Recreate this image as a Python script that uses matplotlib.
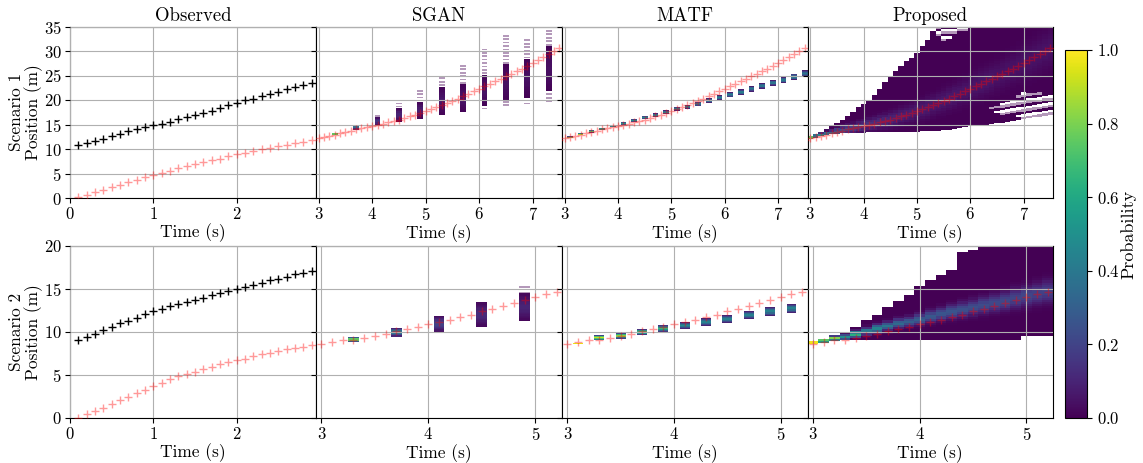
import numpy as np
import matplotlib.pyplot as plt
from matplotlib.cm import ScalarMappable
from matplotlib.colors import Normalize

plt.rcParams['font.family'] = 'cmr10'
plt.rcParams['mathtext.fontset'] = 'cm'
plt.rcParams['axes.formatter.use_mathtext'] = True
plt.rcParams['font.size'] = 13

# ---------------- data ----------------
# observed history, t = 0.1 .. 2.9
t_obs = [0.1, 0.2, 0.3, 0.4, 0.5, 0.6, 0.7, 0.8, 0.9, 1.0, 1.1, 1.2, 1.3, 1.4, 1.5,
         1.6, 1.7, 1.8, 1.9, 2.0, 2.1, 2.2, 2.3, 2.4, 2.5, 2.6, 2.7, 2.8, 2.9]
obs1_black = [10.8, 11.3, 11.7, 12.1, 12.6, 13.1, 13.6, 14.0, 14.5, 14.9, 15.2, 15.6, 16.1, 16.6, 17.0,
              17.4, 17.8, 18.3, 18.9, 19.4, 19.9, 20.3, 20.8, 21.2, 21.6, 22.2, 22.6, 23.0, 23.5]
obs1_red = [0.2, 0.7, 1.2, 1.7, 2.2, 2.7, 3.2, 3.7, 4.2, 4.6, 5.1, 5.6, 6.1, 6.5, 6.9,
            7.3, 7.7, 8.0, 8.5, 8.9, 9.2, 9.5, 9.9, 10.2, 10.6, 10.8, 11.3, 11.5, 11.8]
obs2_black = [9.1, 9.4, 9.8, 10.2, 10.6, 11.0, 11.3, 11.6, 12.1, 12.5, 12.7, 13.0, 13.3, 13.5, 13.7,
              14.0, 14.25, 14.5, 14.8, 15.0, 15.2, 15.5, 15.7, 16.0, 16.2, 16.4, 16.7, 16.9, 17.1]
obs2_red = [0.0, 0.5, 0.8, 1.2, 1.6, 2.1, 2.45, 2.9, 3.3, 3.7, 4.1, 4.5, 4.85, 5.1, 5.35,
            5.7, 5.95, 6.25, 6.5, 6.7, 6.9, 7.2, 7.4, 7.6, 7.8, 8.0, 8.15, 8.3, 8.45]

# ground truth future
t_fut1 = [3.0, 3.1, 3.2, 3.3, 3.4, 3.5, 3.6, 3.7, 3.8, 3.9, 4.0, 4.1, 4.2, 4.3, 4.4, 4.5,
          4.6, 4.7, 4.8, 4.9, 5.0, 5.1, 5.2, 5.3, 5.4, 5.5, 5.6, 5.7, 5.8, 5.9, 6.0,
          6.1, 6.2, 6.3, 6.4, 6.5, 6.6, 6.7, 6.8, 6.9, 7.0, 7.1, 7.2, 7.3, 7.4, 7.5]
fut1_red = [12.2, 12.4, 12.7, 12.9, 13.2, 13.5, 13.7, 14.0, 14.2, 14.5, 14.7, 15.0, 15.2, 15.5, 15.7, 16.0,
            16.3, 16.7, 17.0, 17.3, 17.7, 18.1, 18.5, 18.9, 19.4, 19.8, 20.3, 20.8, 21.3, 21.8, 22.3,
            22.8, 23.3, 23.8, 24.3, 24.8, 25.3, 25.9, 26.4, 27.0, 27.5, 28.1, 28.7, 29.3, 30.0, 30.6]
t_fut2 = [3.0, 3.1, 3.2, 3.3, 3.4, 3.5, 3.6, 3.7, 3.8, 3.9, 4.0, 4.1, 4.2, 4.3, 4.4, 4.5,
          4.6, 4.7, 4.8, 4.9, 5.0, 5.1, 5.2]
fut2_red = [8.65, 8.85, 9.05, 9.1, 9.3, 9.5, 9.8, 10.1, 10.4, 10.6, 10.9, 11.2, 11.45, 11.7, 12.0, 12.4,
            12.7, 13.0, 13.4, 13.7, 14.1, 14.4, 14.7]

# SGAN: sampled bars (core range, full extent, peak probability)
sgan1_t = [3.3, 3.7, 4.1, 4.5, 4.9, 5.3, 5.7, 6.1, 6.5, 6.9, 7.3]
sgan1_lo = [12.8, 13.9, 14.8, 15.5, 16.2, 16.9, 17.5, 18.8, 19.8, 20.5, 21.8]
sgan1_hi = [13.3, 15.0, 16.5, 18.4, 19.6, 22.7, 23.2, 25.2, 27.3, 28.4, 31.0]
sgan1_min = [12.8, 13.8, 14.8, 15.3, 16.2, 16.9, 17.5, 18.1, 18.8, 19.1, 19.6]
sgan1_max = [13.3, 15.2, 17.2, 19.4, 22.0, 24.6, 27.5, 30.5, 33.6, 32.7, 35.0]
sgan1_peak = [0.75, 0.35, 0.15, 0.1, 0.08, 0.06, 0.05, 0.05, 0.04, 0.04, 0.04]

sgan2_t = [3.3, 3.7, 4.1, 4.5, 4.9]
sgan2_lo = [8.85, 9.45, 10.0, 10.6, 11.3]
sgan2_hi = [9.45, 10.5, 11.9, 13.5, 14.5]
sgan2_min = [8.85, 9.45, 10.0, 10.6, 11.3]
sgan2_max = [9.45, 10.5, 11.9, 13.5, 15.3]
sgan2_peak = [0.85, 0.45, 0.2, 0.12, 0.1]

# MATF: one box per 0.2 s
matf1_t = [3.1, 3.3, 3.5, 3.7, 3.9, 4.1, 4.3, 4.5, 4.7, 4.9, 5.1, 5.3,
           5.5, 5.7, 5.9, 6.1, 6.3, 6.5, 6.7, 6.9, 7.1, 7.3, 7.5]
matf1_mu = [12.4, 13.0, 13.6, 14.1, 14.7, 15.2, 15.8, 16.4, 16.9, 17.5, 18.2, 18.6,
            19.2, 19.9, 20.5, 21.1, 21.6, 22.3, 22.9, 23.5, 24.1, 24.7, 25.4]
matf1_half = [0.2, 0.22, 0.25, 0.27, 0.28, 0.3, 0.32, 0.35, 0.37, 0.4, 0.42, 0.44,
              0.46, 0.48, 0.5, 0.52, 0.55, 0.58, 0.6, 0.62, 0.65, 0.68, 0.7]
matf1_peak = [1.0, 0.9, 0.75, 0.7, 0.6, 0.55, 0.5, 0.5, 0.48, 0.46, 0.45, 0.45,
              0.45, 0.44, 0.43, 0.42, 0.42, 0.41, 0.4, 0.4, 0.4, 0.4, 0.4]

matf2_t = [3.1, 3.3, 3.5, 3.7, 3.9, 4.1, 4.3, 4.5, 4.7, 4.9, 5.1]
matf2_mu = [8.66, 9.35, 9.55, 10.0, 10.4, 10.75, 11.15, 11.55, 11.95, 12.4, 12.75]
matf2_half = [0.1, 0.3, 0.32, 0.35, 0.38, 0.4, 0.42, 0.45, 0.47, 0.5, 0.5]
matf2_peak = [1.0, 0.95, 0.85, 0.7, 0.7, 0.5, 0.45, 0.45, 0.45, 0.45, 0.45]

# Proposed: per-column support, centre, spread and peak
prop1_lo = [12.0, 12.3, 12.6, 12.8, 13.0, 13.1, 13.2, 13.2, 13.2, 13.2, 13.2, 13.4, 13.4, 13.4, 13.4, 13.4,
            13.4, 13.4, 13.4, 13.4, 13.5, 13.7, 13.7, 13.7, 13.7, 13.8, 13.9, 14.1, 14.3, 14.4, 14.6,
            14.8, 14.9, 15.0, 15.1, 15.3, 15.4, 15.6, 15.8, 16.0, 16.1, 16.3, 16.5, 16.6, 16.8, 17.0]
prop1_hi = [12.6, 13.0, 13.4, 14.0, 14.6, 15.3, 16.0, 16.8, 17.6, 18.6, 19.2, 20.0, 21.0, 22.3, 23.6, 24.8,
            25.9, 27.0, 28.0, 28.6, 29.5, 31.0, 32.3, 34.0, 35.0, 35.0, 35.0, 35.0, 35.0, 35.0, 35.0,
            35.0, 35.0, 35.0, 35.0, 35.0, 35.0, 35.0, 35.0, 35.0, 35.0, 35.0, 35.0, 35.0, 35.0, 35.0]
prop1_sig = [0.2, 0.25, 0.3, 0.35, 0.4, 0.45, 0.5, 0.55, 0.6, 0.65, 0.7, 0.75, 0.8, 0.85, 0.9, 0.95,
             1.0, 1.05, 1.1, 1.15, 1.2, 1.25, 1.3, 1.35, 1.4, 1.45, 1.5, 1.55, 1.6, 1.65, 1.7,
             1.75, 1.8, 1.85, 1.9, 1.95, 2.0, 2.05, 2.1, 2.15, 2.2, 2.25, 2.3, 2.35, 2.4, 2.45]
prop1_peak = [0.85, 0.6, 0.5, 0.42, 0.36, 0.3, 0.26, 0.22, 0.2, 0.18, 0.16, 0.15, 0.14, 0.13, 0.12, 0.11,
              0.1, 0.1, 0.09, 0.09, 0.08, 0.08, 0.08, 0.07, 0.07, 0.07, 0.07, 0.07, 0.06, 0.06, 0.06,
              0.06, 0.06, 0.06, 0.06, 0.05, 0.05, 0.05, 0.05, 0.05, 0.05, 0.05, 0.05, 0.05, 0.05, 0.05]
# sparse (pale) regions of the Proposed row-1 map
prop1_pale_t = [5.4, 5.5, 5.6, 5.7, 5.8, 5.9, 6.4, 6.5, 6.6, 6.7, 6.8, 6.9, 7.0, 7.1, 7.2, 7.3, 7.4, 7.5]
prop1_pale_lo = [32.5, 31.5, 32.5, 33.0, 33.5, 34.0, 17.5, 17.3, 17.0, 16.8, 16.6, 16.5, 16.3, 16.5,
                 16.7, 16.8, 17.0, 17.2]
prop1_pale_hi = [35.0, 35.0, 35.0, 35.0, 35.0, 35.0, 18.5, 19.0, 19.5, 20.0, 20.5, 21.0, 21.5, 21.5,
                 21.5, 21.5, 21.5, 21.5]

prop2_lo = [8.6, 8.75, 8.9, 9.05, 9.05, 9.05, 9.05, 9.05, 9.05, 9.05, 9.05, 9.05, 9.05, 9.05, 9.05, 9.05,
            9.1, 9.1, 9.1, 9.1, 9.5, 9.5, 9.5]
prop2_hi = [8.95, 9.2, 9.6, 10.0, 10.6, 11.4, 12.0, 12.9, 13.6, 14.3, 15.3, 16.0, 16.6, 17.2, 19.3, 19.5,
            20.0, 20.0, 20.0, 20.0, 20.0, 20.0, 20.0]
prop2_mu = [8.8, 9.0, 9.2, 9.4, 9.75, 10.1, 10.4, 10.7, 11.0, 11.2, 11.45, 11.8, 12.1, 12.35, 12.6, 12.85,
            13.1, 13.35, 13.6, 13.9, 14.2, 14.45, 14.7]
prop2_sig = [0.12, 0.14, 0.16, 0.2, 0.22, 0.25, 0.28, 0.3, 0.33, 0.36, 0.4, 0.43, 0.46, 0.5, 0.53, 0.56,
             0.6, 0.63, 0.66, 0.7, 0.73, 0.76, 0.8]
prop2_peak = [1.0, 0.9, 0.85, 0.5, 0.65, 0.45, 0.45, 0.4, 0.35, 0.3, 0.3, 0.28, 0.27, 0.26, 0.25, 0.24,
              0.23, 0.22, 0.22, 0.21, 0.21, 0.2, 0.2]

titles = ['Observed', 'SGAN', 'MATF', 'Proposed']
row_labels = ['Scenario 1\nPosition (m)', 'Scenario 2\nPosition (m)']

cmap = plt.get_cmap('viridis')
norm = Normalize(0, 1)


def cell_column(ax, t, w, edges, vals, alpha=1.0):
    vals = np.ma.masked_invalid(np.asarray(vals, dtype=float))
    if vals.count() == 0:
        return
    ax.pcolormesh([t - w / 2, t + w / 2], edges, vals[:, None], cmap=cmap, norm=norm,
                  alpha=alpha, shading='flat', zorder=1, linewidth=0, antialiased=False)


def gauss_column(ax, t, w, lo, hi, mu, sig, peak, dy, alpha=1.0):
    n = max(1, int(round((hi - lo) / dy)))
    edges = np.linspace(lo, hi, n + 1)
    mids = 0.5 * (edges[:-1] + edges[1:])
    vals = peak * np.exp(-0.5 * ((mids - mu) / sig) ** 2)
    cell_column(ax, t, w, edges, vals, alpha)


def striped(ax, t, w, lo, hi, dy):
    # pale sparse samples: every other cell drawn light
    if hi - lo < dy * 0.5:
        return
    n = max(1, int(round((hi - lo) / dy)))
    edges = np.linspace(lo, hi, n + 1)
    vals = np.where(np.arange(n) % 2 == 0, 0.0, np.nan)
    cell_column(ax, t, w, edges, vals, alpha=0.4)


def draw_sgan(ax, ts, lo, hi, mn, mx, pk, w, dy):
    for i, t in enumerate(ts):
        gauss_column(ax, t, w, lo[i], hi[i], 0.5 * (lo[i] + hi[i]), (hi[i] - lo[i]) / 4, pk[i], dy)
        striped(ax, t, w, hi[i] + dy * 0.3, mx[i], dy)
        striped(ax, t, w, mn[i], lo[i] - dy * 0.3, dy)


def draw_matf(ax, ts, mu, half, pk, w):
    for i, t in enumerate(ts):
        gauss_column(ax, t, w, mu[i] - half[i], mu[i] + half[i], mu[i], half[i] / 2.0, pk[i],
                     half[i] / 4)


def draw_prop(ax, ts, lo, hi, mu, sig, pk, dy, ytop, pale=None):
    for i, t in enumerate(ts):
        top = min(hi[i], ytop)
        n = max(1, int(round((top - lo[i]) / dy)))
        edges = np.linspace(lo[i], top, n + 1)
        mids = 0.5 * (edges[:-1] + edges[1:])
        vals = pk[i] * np.exp(-0.5 * ((mids - mu[i]) / sig[i]) ** 2)
        if pale is not None and t in pale[0]:
            j = pale[0].index(t)
            inside = (mids > pale[1][j]) & (mids < pale[2][j])
            idx = np.arange(n)
            vals = np.where(inside & (idx % 3 != 2), np.nan, vals)
            pv = np.where(inside & (idx % 3 == 0), 0.0, np.nan)
            cell_column(ax, t, 0.1, edges, pv, alpha=0.4)
        cell_column(ax, t, 0.1, edges, vals)


fig = plt.figure(figsize=(11.43, 4.63), dpi=100)
W, H = 1143.0, 463.0
col_edges = [70, 316, 562, 807.5, 1053]
row_edges = [(26.5, 198), (246, 418)]

axes = []
for r in range(2):
    row = []
    for c in range(4):
        x0, x1 = col_edges[c], col_edges[c + 1]
        y0, y1 = row_edges[r]
        ax = fig.add_axes([x0 / W, 1 - y1 / H, (x1 - x0) / W, (y1 - y0) / H])
        row.append(ax)
    axes.append(row)

ymax = [35, 20]
xr = [(2.95, 7.55), (2.95, 5.25)]
xt = [[3, 4, 5, 6, 7], [3, 4, 5]]
obs = [(obs1_black, obs1_red), (obs2_black, obs2_red)]
fut = [(t_fut1, fut1_red), (t_fut2, fut2_red)]

for r in range(2):
    truth_t = t_obs + fut[r][0]
    truth_y = obs[r][1] + fut[r][1]
    for c in range(4):
        ax = axes[r][c]
        ax.set_axisbelow(False)
        ax.grid(True, color='#b0b0b0', linewidth=0.8)
        ax.set_ylim(0, ymax[r])
        ax.set_yticks(np.arange(0, ymax[r] + 1, 5))
        ax.set_xlabel('Time (s)', labelpad=1, fontsize=12.5)
        ax.tick_params(labelsize=12, length=3.5, width=0.8, pad=2.5)
        if c == 0:
            ax.set_xlim(0, 2.95)
            ax.set_xticks([0, 1, 2])
            ax.set_ylabel(row_labels[r], fontsize=12.5, linespacing=1.05)
            ax.yaxis.set_label_coords(-0.108, 0.5)
            ax.plot(t_obs, obs[r][0], '+', color='black', ms=5.5, mew=1.0, zorder=3)
        else:
            ax.set_xlim(*xr[r])
            ax.set_xticks(xt[r])
            ax.tick_params(labelleft=False)
        ax.plot(truth_t, truth_y, '+', color='red', alpha=0.4, ms=5.5, mew=1.0, zorder=3)
        if r == 0:
            ax.set_title(titles[c], pad=4, fontsize=13.5)

draw_sgan(axes[0][1], sgan1_t, sgan1_lo, sgan1_hi, sgan1_min, sgan1_max, sgan1_peak, 0.11, 0.35)
draw_sgan(axes[1][1], sgan2_t, sgan2_lo, sgan2_hi, sgan2_min, sgan2_max, sgan2_peak, 0.1, 0.15)
draw_matf(axes[0][2], matf1_t, matf1_mu, matf1_half, matf1_peak, 0.105)
draw_matf(axes[1][2], matf2_t, matf2_mu, matf2_half, matf2_peak, 0.093)
draw_prop(axes[0][3], t_fut1, prop1_lo, prop1_hi, fut1_red, prop1_sig, prop1_peak, 0.5, 35,
          pale=(prop1_pale_t, prop1_pale_lo, prop1_pale_hi))
draw_prop(axes[1][3], t_fut2, prop2_lo, prop2_hi, prop2_mu, prop2_sig, prop2_peak, 0.25, 20)

cax = fig.add_axes([1065 / W, 1 - 418 / H, 22 / W, 368 / H])
cb = fig.colorbar(ScalarMappable(norm=norm, cmap=cmap), cax=cax)
cb.set_ticks([0.0, 0.2, 0.4, 0.6, 0.8, 1.0])
cb.ax.tick_params(labelsize=12, length=3.5, width=0.8)
cb.set_label('Probability', fontsize=13, labelpad=1)

fig.savefig('out.png', dpi=100)
